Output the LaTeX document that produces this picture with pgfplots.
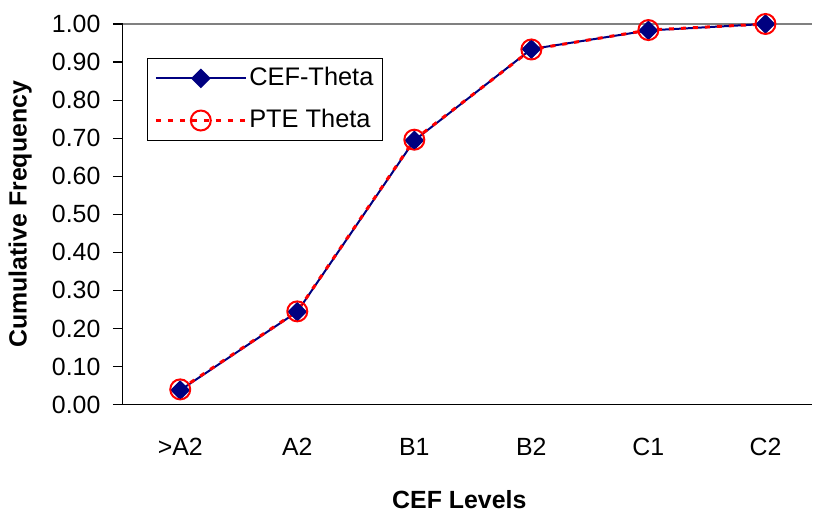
\documentclass[border=0pt]{standalone}
\usepackage{fontspec}
\setmainfont{Liberation Sans}
\usepackage{pgfplots}
\pgfplotsset{compat=1.18}
\definecolor{navyc}{RGB}{0,0,128}
\definecolor{redc}{RGB}{255,0,0}
\begin{document}
\fontsize{25}{30}\selectfont
\begin{tikzpicture}
\begin{axis}[
  scale only axis,
  width=690bp, height=381bp,
  xmin=-0.49, xmax=5.40,
  ymin=0, ymax=1,
  axis x line*=bottom,
  axis y line*=left,
  axis line style={black, line width=1.2bp},
  xtick={0,1,2,3,4,5},
  xticklabels={{>A2},{A2},{B1},{B2},{C1},{C2}},
  xtick style={draw=none},
  xticklabel style={yshift=-15bp},
  ytick={0,0.1,...,1.0},
  tick align=outside,
  major tick length=10bp,
  ytick style={black, line width=1.2bp},
  yticklabel style={/pgf/number format/.cd, fixed, fixed zerofill, precision=2, /tikz/.cd, xshift=-4bp},
  /pgf/number format/assume math mode=true,
  ylabel={\bfseries Cumulative Frequency},
  xlabel={\bfseries CEF Levels},
  ylabel style={at={(axis description cs:-0.149,0.5)}, anchor=center},
  xlabel style={at={(axis description cs:0.488,-0.249)}, anchor=center},
  clip=false,
  legend style={at={(axis description cs:0.0348,0.911)}, anchor=north west, draw=black, line width=1bp, inner xsep=7bp, inner ysep=7bp, row sep=16bp, nodes={inner sep=2bp}, font=\fontsize{25.5}{30}\selectfont},
  legend cell align=left,
  legend image code/.code={\draw[mark repeat=2,mark phase=2,#1] plot coordinates {(0bp,0bp) (45bp,0bp) (90bp,0bp)};},
]
\draw[gray, line width=1.5bp] (rel axis cs:0,1) -- (rel axis cs:1,1);
\addplot[navyc, line width=2bp, mark=diamond*, mark size=8.5bp, mark options={solid, fill=navyc, xscale=1.333}]
  coordinates {(0,0.038) (1,0.244) (2,0.694) (3,0.934) (4,0.983) (5,1.000)};
\addlegendentry{CEF-Theta}
\addplot[redc, line width=3bp, dash pattern=on 5bp off 7bp, mark=o, mark size=10bp, mark options={solid, line width=2bp}]
  coordinates {(0,0.040) (1,0.245) (2,0.696) (3,0.933) (4,0.984) (5,1.000)};
\addlegendentry{PTE Theta}
\addplot[forget plot, only marks, navyc, mark=diamond*, mark size=8.5bp, mark options={solid, fill=navyc, xscale=1.333}]
  coordinates {(0,0.038) (1,0.244) (2,0.694) (3,0.934) (4,0.983) (5,1.000)};
\path[use as bounding box] (rel axis cs:0,0) ++(-123bp,-106bp) rectangle ++(813bp,511bp);
\end{axis}
\end{tikzpicture}
\end{document}
